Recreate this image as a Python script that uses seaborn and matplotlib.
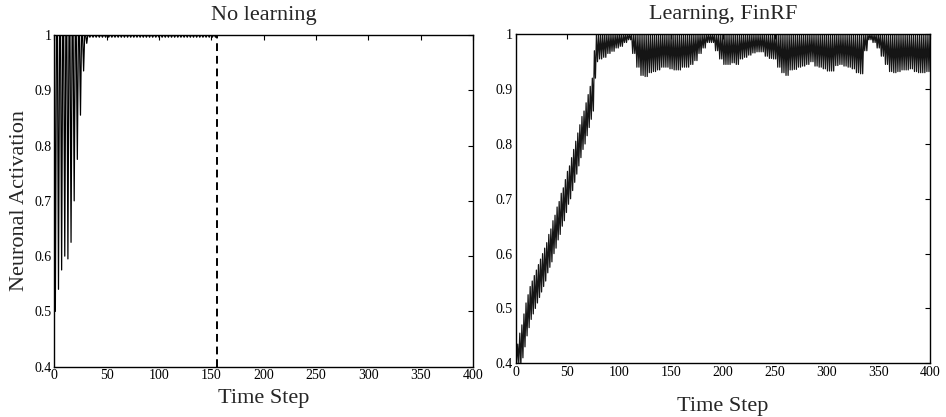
import numpy as np
import pandas as pd
import matplotlib
matplotlib.use("Agg")
import matplotlib.pyplot as plt
import seaborn as sns

# No learning: one trough every 3 time steps (t = 1, 4, 7, ...), peaks sit at 1
nolearn_troughs = [0.50, 0.54, 0.575, 0.60, 0.595, 0.625, 0.70, 0.775, 0.855, 0.935, 0.985] + [0.996] * 41
nolearn_end = 155

# Learning, FinRF, rising part: one (high, low) pair per 2 steps, t = 0..79
rise_hi = [0.42, 0.435, 0.455, 0.47, 0.49, 0.51, 0.525, 0.54, 0.55, 0.56,
           0.57, 0.58, 0.59, 0.60, 0.61, 0.62, 0.635, 0.645, 0.66, 0.67,
           0.685, 0.695, 0.71, 0.72, 0.735, 0.75, 0.76, 0.775, 0.79, 0.805,
           0.82, 0.835, 0.85, 0.86, 0.875, 0.89, 0.905, 0.92, 0.97, 1.0]
rise_lo = [0.40, 0.40, 0.395, 0.41, 0.43, 0.45, 0.465, 0.48, 0.49, 0.50,
           0.51, 0.52, 0.53, 0.54, 0.55, 0.565, 0.575, 0.585, 0.60, 0.61,
           0.625, 0.635, 0.65, 0.66, 0.675, 0.69, 0.70, 0.715, 0.73, 0.745,
           0.76, 0.775, 0.79, 0.80, 0.815, 0.83, 0.845, 0.86, 0.92, 0.95]
# plateau: peaks at 1, troughs per 4-step block, t = 80..399
plateau_lo = [0.955, 0.958, 0.965, 0.969, 0.975, 0.978, 0.985, 0.99, 0.965, 0.94,
              0.925, 0.923, 0.93, 0.932, 0.935, 0.94, 0.94, 0.937, 0.935, 0.935,
              0.94, 0.94, 0.945, 0.952, 0.965, 0.975, 0.985, 0.985, 0.97, 0.955,
              0.945, 0.945, 0.948, 0.945, 0.955, 0.958, 0.962, 0.966, 0.968, 0.968,
              0.96, 0.956, 0.955, 0.94, 0.93, 0.925, 0.935, 0.936, 0.94, 0.942,
              0.945, 0.95, 0.942, 0.94, 0.937, 0.933, 0.933, 0.943, 0.945, 0.942,
              0.94, 0.937, 0.93, 0.928, 0.97, 0.99, 0.985, 0.975, 0.96, 0.945,
              0.932, 0.93, 0.932, 0.935, 0.935, 0.937, 0.932, 0.93, 0.93, 0.932]
learn_end = 400

xticks = [0, 50, 100, 150, 200, 250, 300, 350, 400]
yticks = [0.4, 0.5, 0.6, 0.7, 0.8, 0.9, 1.0]
ytick_labels = ["0.4", "0.5", "0.6", "0.7", "0.8", "0.9", "1"]

# build the traces
t_no = np.arange(nolearn_end + 1)
y_no = np.ones(len(t_no))
for i, v in enumerate(nolearn_troughs):
    y_no[1 + 3 * i] = v
df_no = pd.DataFrame({"t": t_no, "act": y_no})

t_le = np.arange(learn_end + 1)
y_le = np.ones(len(t_le))
n_rise = 2 * len(rise_hi)
for t in t_le:
    if t < n_rise:
        c = t // 2
        y_le[t] = rise_lo[c] if t % 2 else rise_hi[c]
    elif t % 2:
        b = min((t - n_rise) // 4, len(plateau_lo) - 1)
        y_le[t] = plateau_lo[b]
df_le = pd.DataFrame({"t": t_le, "act": y_le})

sns.set_style("white")
plt.rcParams["font.family"] = ["Liberation Serif", "DejaVu Serif"]

fig = plt.figure(figsize=(9.46, 4.17), dpi=100)
ax1 = fig.add_axes([0.0574, 0.1206, 0.4426, 0.7954])
ax2 = fig.add_axes([0.5451, 0.1288, 0.4380, 0.7890])

sns.lineplot(data=df_no, x="t", y="act", ax=ax1, color="k", linewidth=0.9, estimator=None)
ax1.axvline(nolearn_end, color="k", linestyle=(0, (4, 2.5)), linewidth=1.4)
sns.lineplot(data=df_le, x="t", y="act", ax=ax2, color="#151515", linewidth=0.9, estimator=None)

for ax, title in [(ax1, "No learning"), (ax2, "Learning, FinRF")]:
    ax.set_xlim(0, 400)
    ax.set_ylim(0.4, 1.0)
    ax.set_xticks(xticks)
    ax.set_yticks(yticks)
    ax.set_yticklabels(ytick_labels)
    ax.tick_params(direction="in", top=True, right=True, length=3.5, width=0.8,
                   labelsize=10, pad=2, colors="k")
    for sp in ax.spines.values():
        sp.set_visible(True)
        sp.set_color("k")
        sp.set_linewidth(1.0)
    ax.set_title(title, fontsize=16, pad=11)
    ax.set_ylabel("")

ax1.set_xlabel("Time Step", fontsize=16, labelpad=5)
ax2.set_xlabel("Time Step", fontsize=16, labelpad=13)
ax1.set_ylabel("Neuronal Activation", fontsize=16, labelpad=4)

fig.savefig("out.png", dpi=100)
